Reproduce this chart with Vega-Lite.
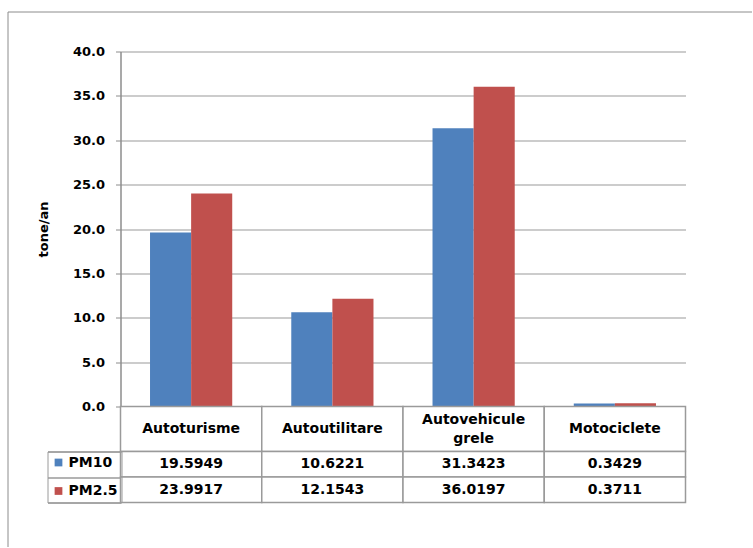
{
  "$schema": "https://vega.github.io/schema/vega-lite/v6.json",
  "padding": {"left": 6.5, "top": 10.5, "right": 0, "bottom": 0},
  "autosize": {"type": "pad"},
  "background": "white",
  "bounds": "flush",
  "spacing": 0,
  "config": {
    "font": "DejaVu Sans",
    "view": {"stroke": null},
    "text": {"font": "DejaVu Sans", "color": "black"}
  },
  "data": {
    "values": [
      {"cat": "Autoturisme", "series": "PM10", "value": 19.5949},
      {"cat": "Autoutilitare", "series": "PM10", "value": 10.6221},
      {"cat": "Autovehicule grele", "series": "PM10", "value": 31.3423},
      {"cat": "Motociclete", "series": "PM10", "value": 0.3429},
      {"cat": "Autoturisme", "series": "PM2.5", "value": 23.9917},
      {"cat": "Autoutilitare", "series": "PM2.5", "value": 12.1543},
      {"cat": "Autovehicule grele", "series": "PM2.5", "value": 36.0197},
      {"cat": "Motociclete", "series": "PM2.5", "value": 0.3711}
    ]
  },
  "resolve": {"scale": {"x": "independent", "y": "independent", "color": "independent", "stroke": "independent"}},
  "vconcat": [
    {
      "width": 565,
      "height": 355,
      "encoding": {
        "x": {
          "field": "cat", "type": "nominal",
          "sort": ["Autoturisme", "Autoutilitare", "Autovehicule grele", "Motociclete"],
          "scale": {"paddingInner": 0.418, "paddingOuter": 0.209},
          "axis": null
        },
        "xOffset": {"field": "series", "type": "nominal", "sort": ["PM10", "PM2.5"]},
        "y": {
          "field": "value", "type": "quantitative",
          "scale": {"domain": [0, 40]},
          "axis": {
            "title": "tone/an",
            "titleFont": "DejaVu Sans",
            "titleFontSize": 13,
            "titleFontWeight": "bold",
            "titleColor": "black",
            "titlePadding": 22,
            "values": [0, 5, 10, 15, 20, 25, 30, 35, 40],
            "format": ".1f",
            "labelFont": "DejaVu Sans",
            "labelFontSize": 13,
            "labelFontWeight": "bold",
            "labelColor": "black",
            "labelPadding": 11,
            "tickSize": 5,
            "tickColor": "#8c8c8c",
            "domainColor": "#8c8c8c",
            "domainWidth": 1.5,
            "grid": true,
            "gridColor": "#9a9a9a",
            "gridWidth": 1.2
          }
        }
      },
      "layer": [
        {
          "mark": {"type": "bar"},
          "encoding": {
            "color": {
              "field": "series", "type": "nominal",
              "scale": {"domain": ["PM10", "PM2.5"], "range": ["#4F81BD", "#C0504D"]},
              "legend": null
            }
          }
        },
        {
          "mark": {"type": "point", "opacity": 0, "filled": false},
          "encoding": {
            "stroke": {
              "field": "value", "type": "quantitative",
              "legend": {
                "type": "gradient",
                "title": null,
                "orient": "none",
                "direction": "horizontal",
                "legendX": -113,
                "legendY": -40,
                "gradientLength": 744,
                "gradientThickness": 535,
                "gradientOpacity": 0,
                "gradientStrokeWidth": 0,
                "labelExpr": "''",
                "labelFontSize": 0,
                "labelOffset": 0,
                "padding": 0,
                "strokeColor": "#8c8c8c",
                "encode": {
                  "legend": {"update": {"strokeDash": {"value": [744, 1279, 535, 0]}, "strokeWidth": {"value": 1}}}
                }
              }
            }
          }
        }
      ]
    },
    {
      "width": 565,
      "height": 45,
      "transform": [{"filter": "datum.series === 'PM10'"}],
      "encoding": {
        "x": {
          "field": "cat", "type": "nominal",
          "sort": ["Autoturisme", "Autoutilitare", "Autovehicule grele", "Motociclete"],
          "scale": {"paddingInner": 0, "paddingOuter": 0},
          "axis": null
        }
      },
      "layer": [
        {"mark": {"type": "rect", "fill": "white", "stroke": "#9a9a9a", "strokeWidth": 1.5}, "encoding": {}},
        {
          "transform": [{"filter": "datum.cat !== 'Autovehicule grele'"}],
          "mark": {"type": "text", "fontSize": 14, "fontWeight": "bold", "baseline": "middle"},
          "encoding": {"text": {"field": "cat", "type": "nominal"}}
        },
        {
          "transform": [{"filter": "datum.cat === 'Autovehicule grele'"}],
          "mark": {"type": "text", "fontSize": 14, "fontWeight": "bold", "lineBreak": " ", "lineHeight": 19, "baseline": "middle", "dy": -9.5},
          "encoding": {"text": {"field": "cat", "type": "nominal"}}
        }
      ]
    },
    {
      "width": 565,
      "height": 51,
      "encoding": {
        "x": {
          "field": "cat", "type": "nominal",
          "sort": ["Autoturisme", "Autoutilitare", "Autovehicule grele", "Motociclete"],
          "scale": {"paddingInner": 0, "paddingOuter": 0},
          "axis": null
        },
        "y": {
          "field": "series", "type": "nominal",
          "sort": ["PM10", "PM2.5"],
          "scale": {"paddingInner": 0, "paddingOuter": 0},
          "axis": {
            "title": null,
            "labels": false,
            "domain": false,
            "ticks": true,
            "tickBand": "extent",
            "tickSize": 73,
            "tickColor": "#9a9a9a",
            "tickWidth": 1.5
          }
        }
      },
      "layer": [
        {"mark": {"type": "rect", "fill": "white", "stroke": "#9a9a9a", "strokeWidth": 1.5}},
        {
          "mark": {"type": "text", "fontSize": 14, "fontWeight": "bold"},
          "encoding": {"text": {"field": "value", "type": "quantitative", "format": ".4f"}}
        },
        {
          "mark": {"type": "point", "shape": "square", "filled": true, "opacity": 0},
          "encoding": {
            "color": {
              "field": "series", "type": "nominal",
              "scale": {"domain": ["PM10", "PM2.5"], "range": ["#4F81BD", "#C0504D"]},
              "legend": {
                "title": null,
                "orient": "none",
                "legendX": -73,
                "legendY": 0,
                "symbolType": "square",
                "symbolSize": 60,
                "symbolOpacity": 1,
                "symbolStrokeWidth": 0,
                "labelFont": "DejaVu Sans",
                "labelFontSize": 14,
                "labelFontWeight": "bold",
                "labelColor": "black",
                "labelOffset": 3,
                "strokeColor": "#9a9a9a",
                "padding": 4,
                "rowPadding": 14.5
              }
            }
          }
        }
      ]
    }
  ]
}
